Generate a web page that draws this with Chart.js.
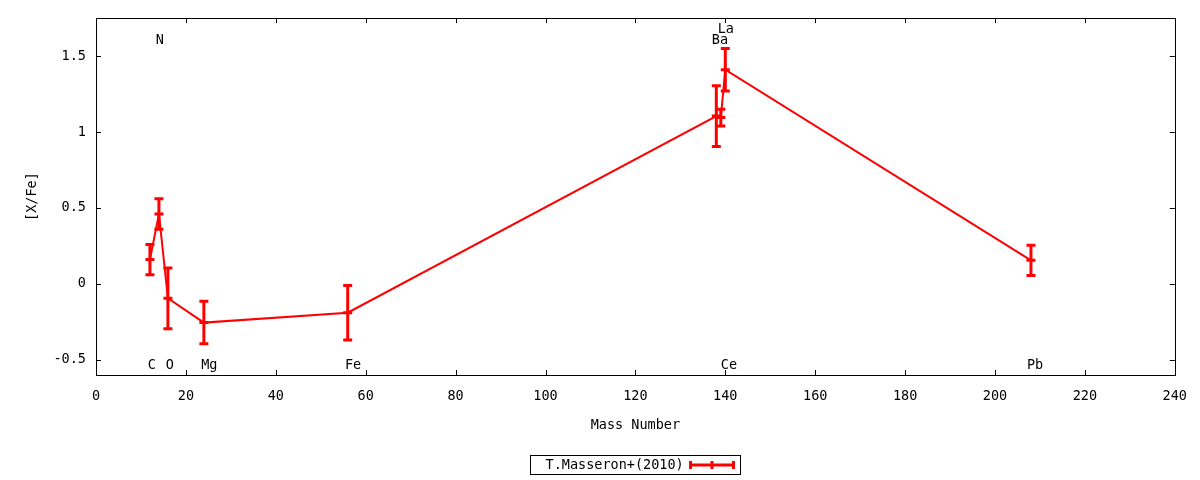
<!DOCTYPE html>
<html>
<head>
<meta charset="utf-8">
<style>
  html, body { margin: 0; padding: 0; background: #fff; }
  #wrap { width: 1200px; height: 480px; }
</style>
<script src="https://cdn.jsdelivr.net/npm/chart.js@4.4.1/dist/chart.umd.min.js"></script>
</head>
<body>
<div id="wrap"><canvas id="abund" width="1200" height="480"></canvas></div>
<script>
// --- Data ---
const massNumbers = [12, 14, 16, 24, 56, 138, 139, 140, 208];
const xfeValues = [0.16, 0.46, -0.095, -0.255, -0.19, 1.105, 1.095, 1.41, 0.155];
const xfeErrors = [0.10, 0.10, 0.20, 0.14, 0.18, 0.20, 0.055, 0.14, 0.10];
const elementNames = ['C', 'N', 'O', 'Mg', 'Fe', 'Ba', 'La', 'Ce', 'Pb'];
// where each element name is written (data units)
const labelMass = [12.4, 14.2, 16.4, 25.2, 57.2, 138.8, 140.1, 140.8, 208.9];
const labelLevel = [-0.535, 1.605, -0.535, -0.535, -0.535, 1.605, 1.672, -0.535, -0.535];
const xTicks = [0, 20, 40, 60, 80, 100, 120, 140, 160, 180, 200, 220, 240];
const yTicks = [-0.5, 0, 0.5, 1, 1.5];
const seriesName = 'T.Masseron+(2010)';

const RED = '#ff0000';
const FONT = '"DejaVu Sans Mono", monospace';
const FONT_SIZE = 13.5;

// error bars, inward ticks, frame, element labels and key
const gnuplotLook = {
  id: 'gnuplotLook',
  afterDatasetsDraw(chart) {
    const { ctx, scales: { x, y } } = chart;
    ctx.save();
    ctx.strokeStyle = RED;
    ctx.lineWidth = 3;
    massNumbers.forEach((m, i) => {
      const px = x.getPixelForValue(m);
      const top = y.getPixelForValue(xfeValues[i] + xfeErrors[i]);
      const bot = y.getPixelForValue(xfeValues[i] - xfeErrors[i]);
      ctx.beginPath();
      ctx.moveTo(px, top); ctx.lineTo(px, bot);
      ctx.moveTo(px - 4.5, top); ctx.lineTo(px + 4.5, top);
      ctx.moveTo(px - 4.5, bot); ctx.lineTo(px + 4.5, bot);
      ctx.stroke();
    });
    ctx.restore();
  },
  afterDraw(chart) {
    const { ctx, chartArea: a, scales: { x, y } } = chart;
    ctx.save();
    // frame
    ctx.strokeStyle = '#000';
    ctx.lineWidth = 1;
    ctx.strokeRect(Math.round(a.left) + 0.5, Math.round(a.top) + 0.5,
      Math.round(a.right - a.left), Math.round(a.bottom - a.top));
    // inward ticks, mirrored
    ctx.beginPath();
    xTicks.forEach(v => {
      const px = Math.round(x.getPixelForValue(v)) + 0.5;
      ctx.moveTo(px, a.bottom); ctx.lineTo(px, a.bottom - 5);
      ctx.moveTo(px, a.top); ctx.lineTo(px, a.top + 5);
    });
    yTicks.forEach(v => {
      const py = Math.round(y.getPixelForValue(v)) + 0.5;
      ctx.moveTo(a.left, py); ctx.lineTo(a.left + 5, py);
      ctx.moveTo(a.right, py); ctx.lineTo(a.right - 5, py);
    });
    ctx.stroke();

    // element names
    ctx.fillStyle = '#000';
    ctx.font = FONT_SIZE + 'px ' + FONT;
    ctx.textAlign = 'center';
    ctx.textBaseline = 'middle';
    elementNames.forEach((name, i) => {
      ctx.fillText(name, x.getPixelForValue(labelMass[i]), y.getPixelForValue(labelLevel[i]));
    });

    // key box under the axis title
    const cx = (a.left + a.right) / 2;
    const boxL = Math.round(cx - 105) + 0.5, boxT = 455.5, boxW = 210, boxH = 19;
    ctx.strokeRect(boxL, boxT, boxW, boxH);
    ctx.textAlign = 'left';
    ctx.fillText(seriesName, boxL + 15, boxT + boxH / 2 + 0.5);
    const sy = boxT + boxH / 2, s0 = boxL + 160, s1 = boxL + 203;
    ctx.strokeStyle = RED;
    ctx.lineWidth = 3;
    ctx.beginPath();
    ctx.moveTo(s0, sy); ctx.lineTo(s1, sy);
    [s0, (s0 + s1) / 2, s1].forEach(sx => {
      ctx.moveTo(sx, sy - 4); ctx.lineTo(sx, sy + 4);
    });
    ctx.stroke();
    ctx.restore();
  }
};

new Chart(document.getElementById('abund'), {
  type: 'scatter',
  data: {
    datasets: [{
      label: seriesName,
      data: massNumbers.map((m, i) => ({ x: m, y: xfeValues[i] })),
      showLine: true,
      borderColor: RED,
      borderWidth: 2,
      backgroundColor: RED,
      pointStyle: 'line',
      pointRadius: 4.5,
      pointBorderWidth: 3,
      pointBorderColor: RED,
      tension: 0
    }]
  },
  options: {
    responsive: false,
    animation: false,
    devicePixelRatio: 1,
    layout: { padding: { left: 0, right: 22, top: 18, bottom: 35 } },
    plugins: {
      legend: { display: false },
      tooltip: { enabled: false }
    },
    scales: {
      x: {
        type: 'linear',
        min: 0,
        max: 240,
        afterBuildTicks: s => { s.ticks = xTicks.map(v => ({ value: v })); },
        afterFit: s => { s.height = 70; },
        grid: { display: false, drawTicks: false },
        border: { display: false },
        ticks: { color: '#000', font: { family: FONT, size: FONT_SIZE }, padding: 13, maxRotation: 0 },
        title: {
          display: true,
          text: 'Mass Number',
          color: '#000',
          font: { family: FONT, size: FONT_SIZE },
          padding: { top: 0, bottom: 11 }
        }
      },
      y: {
        type: 'linear',
        min: -0.6,
        max: 1.75,
        afterBuildTicks: s => { s.ticks = yTicks.map(v => ({ value: v })); },
        afterFit: s => { s.width = 96; },
        grid: { display: false, drawTicks: false },
        border: { display: false },
        ticks: {
          color: '#000',
          font: { family: FONT, size: FONT_SIZE },
          padding: 10,
          callback: v => String(v)
        },
        title: {
          display: true,
          text: '[X/Fe]',
          color: '#000',
          font: { family: FONT, size: FONT_SIZE },
          padding: { top: 24, bottom: 0 }
        }
      }
    }
  },
  plugins: [gnuplotLook]
});
</script>
</body>
</html>
